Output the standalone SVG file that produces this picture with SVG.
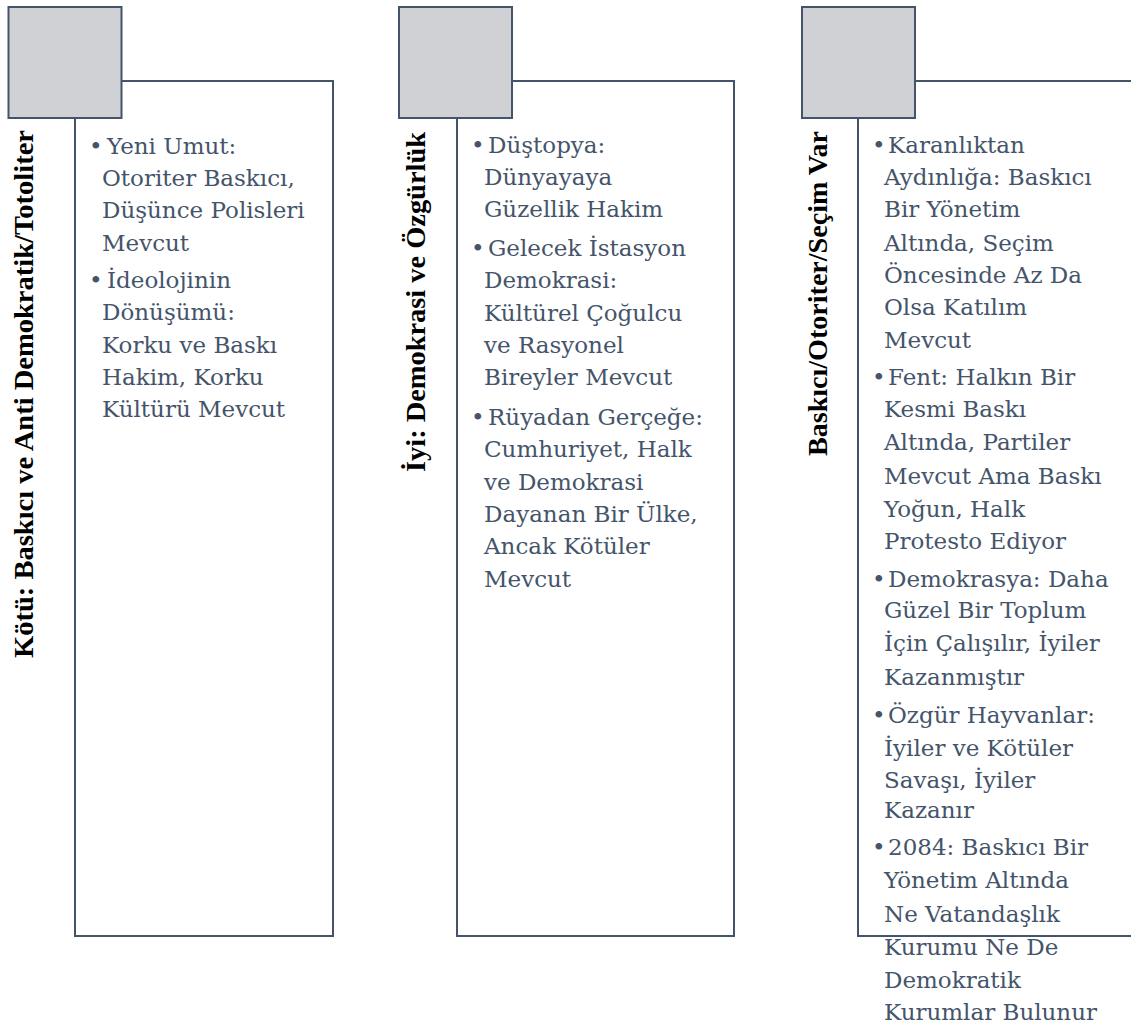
<svg xmlns="http://www.w3.org/2000/svg" width="1131" height="1026" viewBox="0 0 1131 1026">
<style>
.frame{fill:#ffffff;stroke:#44546A;stroke-width:2}
.sq{fill:#D0D1D5;stroke:#44546A;stroke-width:2}
.body{font-family:"DejaVu Serif","Liberation Serif",serif;font-size:23px;fill:#44546A}
.lbl{font-family:"Liberation Serif","Times New Roman",serif;font-size:28px;font-weight:bold;fill:#000000}
</style>
<rect width="1131" height="1026" fill="#ffffff"/>

<g id="panel-1">
  <rect class="frame" x="75" y="81" width="258" height="855"/>
  <rect class="sq" x="8.5" y="7" width="113" height="111"/>
  <text class="lbl" transform="translate(33,658) rotate(-90)" textLength="528" lengthAdjust="spacingAndGlyphs">Kötü: Baskıcı ve Anti Demokratik/Totoliter</text>
  <g class="body">
    <text y="154"><tspan x="89">•</tspan><tspan x="107">Yeni Umut:</tspan></text>
    <text x="102" y="186">Otoriter Baskıcı,</text>
    <text x="102" y="218">Düşünce Polisleri</text>
    <text x="102" y="251">Mevcut</text>
    <text y="288"><tspan x="89">•</tspan><tspan x="107">İdeolojinin</tspan></text>
    <text x="102" y="320">Dönüşümü:</text>
    <text x="102" y="353">Korku ve Baskı</text>
    <text x="102" y="385">Hakim, Korku</text>
    <text x="102" y="417">Kültürü Mevcut</text>
  </g>
</g>

<g id="panel-2">
  <rect class="frame" x="457" y="81" width="277" height="855"/>
  <rect class="sq" x="399" y="7" width="113" height="111"/>
  <text class="lbl" transform="translate(425,472) rotate(-90)" textLength="340" lengthAdjust="spacingAndGlyphs">İyi: Demokrasi ve Özgürlük</text>
  <g class="body">
    <text y="153"><tspan x="471">•</tspan><tspan x="488">Düştopya:</tspan></text>
    <text x="484" y="185">Dünyayaya</text>
    <text x="484" y="217">Güzellik Hakim</text>
    <text y="256"><tspan x="471">•</tspan><tspan x="488">Gelecek İstasyon</tspan></text>
    <text x="484" y="288">Demokrasi:</text>
    <text x="484" y="321">Kültürel Çoğulcu</text>
    <text x="484" y="353">ve Rasyonel</text>
    <text x="484" y="385">Bireyler Mevcut</text>
    <text y="425"><tspan x="471">•</tspan><tspan x="488">Rüyadan Gerçeğe:</tspan></text>
    <text x="484" y="457">Cumhuriyet, Halk</text>
    <text x="484" y="490">ve Demokrasi</text>
    <text x="484" y="522">Dayanan Bir Ülke,</text>
    <text x="484" y="554">Ancak Kötüler</text>
    <text x="484" y="587">Mevcut</text>
  </g>
</g>

<g id="panel-3">
  <rect class="frame" x="858" y="81" width="290" height="855"/>
  <rect class="sq" x="802" y="7" width="113" height="111"/>
  <text class="lbl" transform="translate(827,456) rotate(-90)" textLength="325" lengthAdjust="spacingAndGlyphs">Baskıcı/Otoriter/Seçim Var</text>
  <g class="body">
    <text y="153"><tspan x="872">•</tspan><tspan x="888">Karanlıktan</tspan></text>
    <text x="884" y="185">Aydınlığa: Baskıcı</text>
    <text x="884" y="217">Bir Yönetim</text>
    <text x="884" y="251">Altında, Seçim</text>
    <text x="884" y="283">Öncesinde Az Da</text>
    <text x="884" y="315">Olsa Katılım</text>
    <text x="884" y="348">Mevcut</text>
    <text y="385"><tspan x="872">•</tspan><tspan x="888">Fent: Halkın Bir</tspan></text>
    <text x="884" y="417">Kesmi Baskı</text>
    <text x="884" y="450">Altında, Partiler</text>
    <text x="884" y="484">Mevcut Ama Baskı</text>
    <text x="884" y="517">Yoğun, Halk</text>
    <text x="884" y="549">Protesto Ediyor</text>
    <text y="587"><tspan x="872">•</tspan><tspan x="888">Demokrasya: Daha</tspan></text>
    <text x="884" y="618">Güzel Bir Toplum</text>
    <text x="884" y="651">İçin Çalışılır, İyiler</text>
    <text x="884" y="685">Kazanmıştır</text>
    <text y="723"><tspan x="872">•</tspan><tspan x="888">Özgür Hayvanlar:</tspan></text>
    <text x="884" y="756">İyiler ve Kötüler</text>
    <text x="884" y="788">Savaşı, İyiler</text>
    <text x="884" y="818">Kazanır</text>
    <text y="855"><tspan x="872">•</tspan><tspan x="888">2084: Baskıcı Bir</tspan></text>
    <text x="884" y="888">Yönetim Altında</text>
    <text x="884" y="922">Ne Vatandaşlık</text>
    <text x="884" y="955">Kurumu Ne De</text>
    <text x="884" y="988">Demokratik</text>
    <text x="884" y="1020">Kurumlar Bulunur</text>
  </g>
</g>
</svg>
